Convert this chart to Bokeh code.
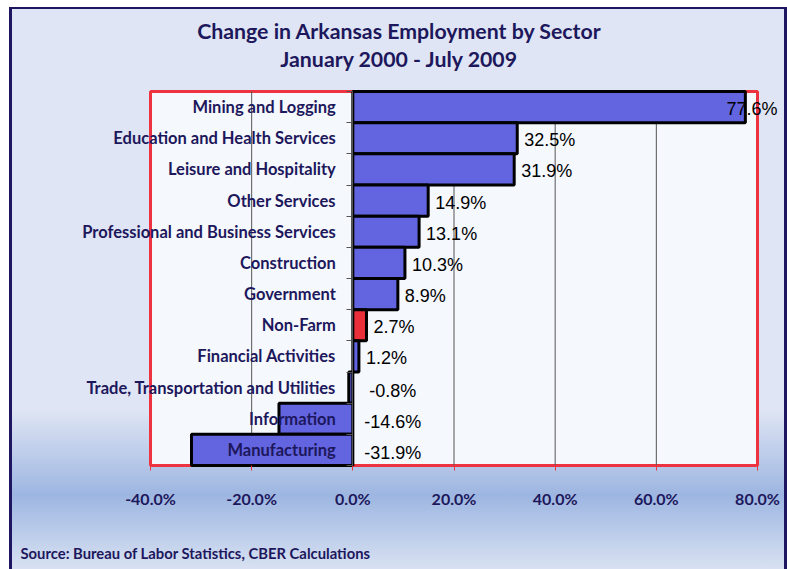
from bokeh.plotting import figure
from bokeh.models import (ColumnDataSource, Range1d, FixedTicker, PrintfTickFormatter,
                          LabelSet, Label)
from bokeh.core.properties import value
from bokeh.embed import file_html
from bokeh.resources import INLINE
import numpy as np

categories = ["Mining and Logging", "Education and Health Services", "Leisure and Hospitality",
              "Other Services", "Professional and Business Services", "Construction",
              "Government", "Non-Farm", "Financial Activities",
              "Trade, Transportation and Utilities", "Information", "Manufacturing"]
values = [77.6, 32.5, 31.9, 14.9, 13.1, 10.3, 8.9, 2.7, 1.2, -0.8, -14.6, -31.9]
value_labels = ["77.6%", "32.5%", "31.9%", "14.9%", "13.1%", "10.3%", "8.9%", "2.7%",
                "1.2%", "-0.8%", "-14.6%", "-31.9%"]
x_ticks = [-40, -20, 0, 20, 40, 60, 80]

NAVY = "#1d175c"
BLUE = "#6264e0"
RED = "#ea2f3a"
FRAME_RED = "#ee3340"

# page layout (pixels)
W, H = 787, 569
PA_L, PA_R, PA_T, PA_B = 150, 757, 91, 465   # plot area box

n = len(categories)
ypos = np.arange(n)
vals = np.array(values)
colors = [RED if c == "Non-Farm" else BLUE for c in categories]

xmin, xmax = x_ticks[0], x_ticks[-1]
ppx = (PA_R - PA_L) / (xmax - xmin)
ppy = (PA_B - PA_T) / n
x_range = Range1d(xmin - PA_L / ppx, xmax + (W - PA_R) / ppx)
y_range = Range1d(n - 0.5 + (H - PA_B) / ppy, -0.5 - PA_T / ppy)

p = figure(width=W, height=H, output_backend="svg", toolbar_location=None,
           x_range=x_range, y_range=y_range,
           min_border_left=0, min_border_right=0, min_border_top=0, min_border_bottom=0)

p.styles = {"background": "linear-gradient(to bottom, #dfe5f4 0%, #dfe5f4 72%, #9db6e1 87%, #d8e1f2 100%)",
            "box-shadow": "inset 9px 7px 0 0 #ffffff, inset 12px 9px 0 0 #1e1660, inset -3px 0 0 0 #1e1660"}
p.border_fill_alpha = 0
p.background_fill_alpha = 0
p.outline_line_color = None
p.xgrid.grid_line_color = None
p.ygrid.grid_line_color = None

# plot area
p.quad(left=[xmin], right=[xmax], top=[-0.5], bottom=[n - 0.5], fill_color="#f5f8fd",
       line_color=FRAME_RED, line_width=3)
grid_x = [t for t in x_ticks if t not in (xmin, xmax, 0)]
p.segment(x0=grid_x, x1=grid_x, y0=[-0.5] * len(grid_x), y1=[n - 0.5] * len(grid_x),
          line_color="#555555", line_width=1)

src = ColumnDataSource(dict(y=ypos, right=vals, color=colors, cat=categories))
p.hbar(y="y", left=0, right="right", height=1.0, fill_color="color",
       line_color="black", line_width=3, source=src)

# x axis at bottom of plot area
p.xaxis.fixed_location = n - 0.5
p.xaxis.bounds = (xmin, xmax)
p.xaxis.ticker = FixedTicker(ticks=x_ticks)
p.xaxis.formatter = PrintfTickFormatter(format="%.1f%%")
p.xaxis.axis_line_color = None
p.xaxis.major_tick_in = 0
p.xaxis.major_tick_out = 5
p.xaxis.major_tick_line_color = FRAME_RED
p.xaxis.minor_tick_line_color = None
p.xaxis.major_label_standoff = 18
p.xaxis.major_label_text_font = "Lato"
p.xaxis.major_label_text_font_style = "bold"
p.xaxis.major_label_text_font_size = "16px"
p.xaxis.major_label_text_color = NAVY

# y axis at zero
p.yaxis.fixed_location = 0
p.yaxis.bounds = (-0.5, n - 0.5)
p.yaxis.ticker = FixedTicker(ticks=list(ypos), minor_ticks=[i - 0.5 for i in range(n + 1)])
p.yaxis.major_label_overrides = {int(i): c for i, c in zip(ypos, categories)}
p.yaxis.major_tick_in = 0
p.yaxis.major_tick_out = 0
p.yaxis.minor_tick_in = 0
p.yaxis.minor_tick_out = 6
p.yaxis.minor_tick_line_color = "#555555"
p.yaxis.axis_line_color = "#555555"
p.yaxis.major_label_standoff = 11
p.yaxis.major_label_text_font = "Lato"
p.yaxis.major_label_text_font_style = "bold"
p.yaxis.major_label_text_font_size = "16.5px"
p.yaxis.major_label_text_color = NAVY

# data labels
pos_mask = vals >= 0
pos_src = ColumnDataSource(dict(x=np.minimum(vals[pos_mask], 72.5), y=ypos[pos_mask],
                                t=[l for l, m in zip(value_labels, pos_mask) if m]))
neg_src = ColumnDataSource(dict(x=np.zeros((~pos_mask).sum()), y=ypos[~pos_mask],
                                t=[l for l, m in zip(value_labels, pos_mask) if not m]))
p.add_layout(LabelSet(x="x", y="y", text="t", source=pos_src, x_offset=7, y_offset=-2,
                      text_align="left", text_baseline="middle",
                      text_font=value("Liberation Sans"),
                      text_font_size="18px", text_color="black"))
p.add_layout(LabelSet(x="x", y="y", text="t", source=neg_src, x_offset=40, y_offset=-3,
                      text_align="center", text_baseline="middle",
                      text_font=value("Liberation Sans"),
                      text_font_size="18px", text_color="black"))

# titles and source
for txt, yy in [("Change in Arkansas Employment by Sector", H - 30),
                ("January 2000 - July 2009", H - 58)]:
    p.add_layout(Label(x=399, y=yy, x_units="screen", y_units="screen", text=txt,
                       text_align="center", text_baseline="middle", text_font="Lato",
                       text_font_style="bold", text_font_size="21.3px", text_color=NAVY))
p.add_layout(Label(x=20, y=H - 552, x_units="screen", y_units="screen",
                   text="Source: Bureau of Labor Statistics, CBER Calculations",
                   text_align="left", text_baseline="middle", text_font="Lato",
                   text_font_style="bold", text_font_size="14.8px", text_color=NAVY))

open("out.html", "w").write(file_html(p, INLINE))
